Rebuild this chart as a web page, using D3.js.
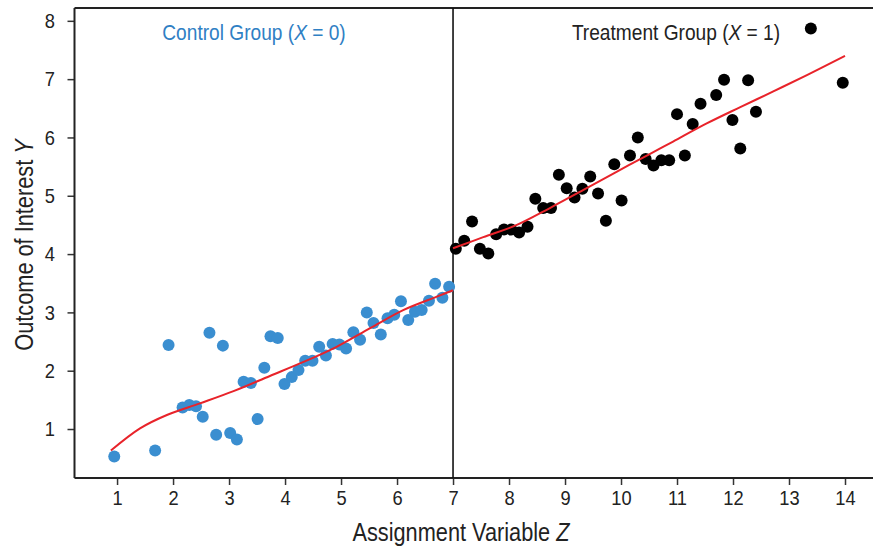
<!DOCTYPE html>
<html lang="en">
<head>
<meta charset="UTF-8">
<title>Regression Discontinuity</title>
<script src="https://cdnjs.cloudflare.com/ajax/libs/d3/7.8.5/d3.min.js"></script>
<style>
    body { margin: 0; background: #fff; }
    text { font-family: "Liberation Sans", Arial, sans-serif; fill: #222; }
    .tick line { stroke: #333; stroke-width: 1.5px; }
    .tick text { font-size: 21px; fill: #222; }
</style>
</head>
<body>
<div id="chart"></div>
<script>
// control group (Z < 7)
const controlZ = [0.95, 1.68, 1.92, 2.17, 2.29, 2.41, 2.53, 2.65, 2.77, 2.89, 3.02, 3.14, 3.26, 3.39, 3.51,
    3.63, 3.74, 3.87, 3.99, 4.12, 4.24, 4.36, 4.49, 4.61, 4.73, 4.85, 4.97, 5.09, 5.22, 5.34,
    5.46, 5.58, 5.71, 5.83, 5.95, 6.07, 6.20, 6.32, 6.44, 6.57, 6.68, 6.81, 6.93];
const controlY = [0.53, 0.63, 2.44, 1.37, 1.41, 1.39, 1.21, 2.65, 0.90, 2.43, 0.93, 0.82, 1.81, 1.79, 1.17,
    2.05, 2.59, 2.56, 1.77, 1.89, 2.01, 2.17, 2.17, 2.41, 2.26, 2.46, 2.45, 2.38, 2.66, 2.53,
    3.00, 2.82, 2.62, 2.90, 2.96, 3.19, 2.87, 3.01, 3.04, 3.20, 3.49, 3.25, 3.44];

// treatment group (Z >= 7)
const treatZ = [7.05, 7.20, 7.34, 7.48, 7.63, 7.77, 7.91, 8.04, 8.18, 8.33, 8.47, 8.61, 8.75, 8.89, 9.03,
    9.17, 9.31, 9.45, 9.59, 9.73, 9.88, 10.01, 10.16, 10.30, 10.44, 10.58, 10.72, 10.86, 11.00, 11.14,
    11.28, 11.42, 11.70, 11.84, 11.99, 12.13, 12.27, 12.41, 13.39, 13.96];
const treatY = [4.09, 4.23, 4.56, 4.09, 4.01, 4.34, 4.42, 4.42, 4.37, 4.47, 4.95, 4.79, 4.79, 5.36, 5.13,
    4.97, 5.12, 5.33, 5.04, 4.57, 5.54, 4.92, 5.69, 6.00, 5.63, 5.52, 5.61, 5.61, 6.40, 5.69,
    6.23, 6.58, 6.73, 6.99, 6.30, 5.81, 6.98, 6.44, 7.87, 6.94];

// fitted curves
const controlFitZ = [0.89, 1.41, 1.89, 2.48, 3.08, 3.73, 4.33, 4.92, 5.52, 6.11, 6.71, 7.0];
const controlFitY = [0.63, 1.01, 1.24, 1.44, 1.65, 1.91, 2.15, 2.41, 2.73, 3.04, 3.27, 3.38];
const treatFitZ = [7.0, 7.54, 8.14, 8.73, 9.33, 9.92, 10.52, 10.93, 11.53, 12.13, 12.72, 13.32, 14.0];
const treatFitY = [4.10, 4.29, 4.50, 4.79, 5.10, 5.41, 5.72, 5.93, 6.24, 6.52, 6.79, 7.07, 7.40];

const xTicks = [1, 2, 3, 4, 5, 6, 7, 8, 9, 10, 11, 12, 13, 14];
const yTicks = [1, 2, 3, 4, 5, 6, 7, 8];
const cutoff = 7;

const width = 873, height = 548;
const margin = {top: 8, right: 0, bottom: 70, left: 74.5};
const squeeze = 0.87; // condensed look: horizontal squash of the text

const x = d3.scaleLinear().domain([0.24, 14.5]).range([margin.left, width]);
const y = d3.scaleLinear().domain([0.16, 8.22]).range([height - margin.bottom, margin.top]);

const svg = d3.select("#chart").append("svg")
    .attr("width", width)
    .attr("height", height);

// squash a text horizontally while keeping its anchor x in place
function narrow(sel) {
    sel.each(function () {
        const t = d3.select(this);
        const x0 = +t.attr("x") || 0;
        t.attr("x", x0 / squeeze).attr("transform", `scale(${squeeze},1)`);
    });
}

// axes
const xAxis = svg.append("g")
    .attr("transform", `translate(0,${height - margin.bottom})`)
    .call(d3.axisBottom(x).tickValues(xTicks).tickSize(7).tickSizeOuter(0).tickPadding(5));
xAxis.select(".domain").remove();
xAxis.selectAll(".tick text").call(narrow);

const yAxis = svg.append("g")
    .attr("transform", `translate(${margin.left},0)`)
    .call(d3.axisLeft(y).tickValues(yTicks).tickSize(7).tickSizeOuter(0).tickPadding(12.5));
yAxis.select(".domain").remove();
yAxis.selectAll(".tick text").call(narrow);

// frame (no right edge)
const frame = svg.append("g").attr("stroke", "#222").attr("stroke-width", 2).attr("fill", "none");
frame.append("line").attr("x1", margin.left).attr("x2", width).attr("y1", margin.top).attr("y2", margin.top);
frame.append("line").attr("x1", margin.left).attr("x2", width)
    .attr("y1", height - margin.bottom).attr("y2", height - margin.bottom);
frame.append("line").attr("x1", margin.left).attr("x2", margin.left)
    .attr("y1", margin.top).attr("y2", height - margin.bottom);

// cutoff line
svg.append("line")
    .attr("x1", x(cutoff)).attr("x2", x(cutoff))
    .attr("y1", margin.top).attr("y2", height - margin.bottom)
    .attr("stroke", "#111").attr("stroke-width", 1.6);

// points
svg.append("g").selectAll("circle")
    .data(d3.zip(controlZ, controlY))
    .join("circle")
    .attr("cx", d => x(d[0]))
    .attr("cy", d => y(d[1]))
    .attr("r", 6)
    .attr("fill", "#3a8ed0");

svg.append("g").selectAll("circle")
    .data(d3.zip(treatZ, treatY))
    .join("circle")
    .attr("cx", d => x(d[0]))
    .attr("cy", d => y(d[1]))
    .attr("r", 6)
    .attr("fill", "#000");

// fitted lines
const line = d3.line().x(d => x(d[0])).y(d => y(d[1])).curve(d3.curveCatmullRom);
svg.append("path")
    .datum(d3.zip(controlFitZ, controlFitY))
    .attr("d", line)
    .attr("fill", "none").attr("stroke", "#e8232a").attr("stroke-width", 2);
svg.append("path")
    .datum(d3.zip(treatFitZ, treatFitY))
    .attr("d", line)
    .attr("fill", "none").attr("stroke", "#e8232a").attr("stroke-width", 2);

// group labels
function groupLabel(cx, name, value, color) {
    const t = svg.append("text")
        .attr("x", cx).attr("y", 40)
        .attr("text-anchor", "middle")
        .style("font-size", "22px")
        .style("fill", color);
    t.append("tspan").text(name + " (");
    t.append("tspan").style("font-style", "italic").style("fill", color).text("X");
    t.append("tspan").style("fill", color).text(" = " + value + ")");
    t.call(narrow);
}
groupLabel(254, "Control Group", 0, "#2f80c4");
groupLabel(676, "Treatment Group", 1, "#222");

// axis titles
const xt = svg.append("text")
    .attr("x", 461).attr("y", 541)
    .attr("text-anchor", "middle")
    .style("font-size", "25px");
xt.append("tspan").text("Assignment Variable ");
xt.append("tspan").style("font-style", "italic").text("Z");
xt.call(narrow);

const yt = svg.append("text")
    .attr("transform", `translate(33,245) rotate(-90) scale(${squeeze},1)`)
    .attr("text-anchor", "middle")
    .style("font-size", "25px");
yt.append("tspan").text("Outcome of Interest ");
yt.append("tspan").style("font-style", "italic").text("Y");
</script>
</body>
</html>
